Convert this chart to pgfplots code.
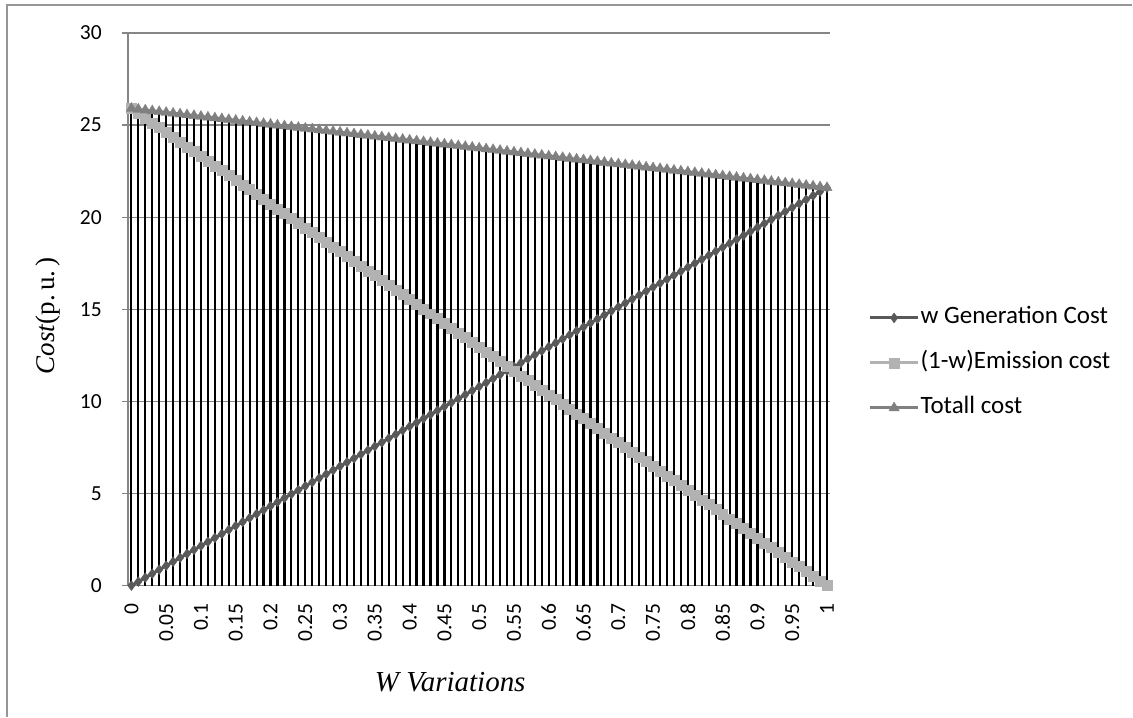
\documentclass[border=0pt]{standalone}
\usepackage{fontspec}
\setmainfont{Carlito}
\newfontfamily\tnr{Liberation Serif}
\usepackage{pgfplots}
\usepackage{pgfplotstable}
\pgfplotsset{compat=1.18}
\definecolor{genc}{RGB}{89,89,89}
\definecolor{emc}{RGB}{178,178,178}
\definecolor{totc}{RGB}{128,128,128}
\definecolor{gridc}{RGB}{134,134,134}
\definecolor{framec}{RGB}{150,150,150}
\newcommand\tf{\fontsize{21.5bp}{24bp}\selectfont}
\pgfplotstableread{
i gen em tot
0 0 25.9 25.9
1 0.216 25.641 25.857
2 0.432 25.382 25.814
3 0.648 25.123 25.771
4 0.864 24.864 25.728
5 1.08 24.605 25.685
6 1.296 24.346 25.642
7 1.512 24.087 25.599
8 1.728 23.828 25.556
9 1.944 23.569 25.513
10 2.16 23.31 25.47
11 2.376 23.051 25.427
12 2.592 22.792 25.384
13 2.808 22.533 25.341
14 3.024 22.274 25.298
15 3.24 22.015 25.255
16 3.456 21.756 25.212
17 3.672 21.497 25.169
18 3.888 21.238 25.126
19 4.104 20.979 25.083
20 4.32 20.72 25.04
21 4.536 20.461 24.997
22 4.752 20.202 24.954
23 4.968 19.943 24.911
24 5.184 19.684 24.868
25 5.4 19.425 24.825
26 5.616 19.166 24.782
27 5.832 18.907 24.739
28 6.048 18.648 24.696
29 6.264 18.389 24.653
30 6.48 18.13 24.61
31 6.696 17.871 24.567
32 6.912 17.612 24.524
33 7.128 17.353 24.481
34 7.344 17.094 24.438
35 7.56 16.835 24.395
36 7.776 16.576 24.352
37 7.992 16.317 24.309
38 8.208 16.058 24.266
39 8.424 15.799 24.223
40 8.64 15.54 24.18
41 8.856 15.281 24.137
42 9.072 15.022 24.094
43 9.288 14.763 24.051
44 9.504 14.504 24.008
45 9.72 14.245 23.965
46 9.936 13.986 23.922
47 10.152 13.727 23.879
48 10.368 13.468 23.836
49 10.584 13.209 23.793
50 10.8 12.95 23.75
51 11.016 12.691 23.707
52 11.232 12.432 23.664
53 11.448 12.173 23.621
54 11.664 11.914 23.578
55 11.88 11.655 23.535
56 12.096 11.396 23.492
57 12.312 11.137 23.449
58 12.528 10.878 23.406
59 12.744 10.619 23.363
60 12.96 10.36 23.32
61 13.176 10.101 23.277
62 13.392 9.842 23.234
63 13.608 9.583 23.191
64 13.824 9.324 23.148
65 14.04 9.065 23.105
66 14.256 8.806 23.062
67 14.472 8.547 23.019
68 14.688 8.288 22.976
69 14.904 8.029 22.933
70 15.12 7.77 22.89
71 15.336 7.511 22.847
72 15.552 7.252 22.804
73 15.768 6.993 22.761
74 15.984 6.734 22.718
75 16.2 6.475 22.675
76 16.416 6.216 22.632
77 16.632 5.957 22.589
78 16.848 5.698 22.546
79 17.064 5.439 22.503
80 17.28 5.18 22.46
81 17.496 4.921 22.417
82 17.712 4.662 22.374
83 17.928 4.403 22.331
84 18.144 4.144 22.288
85 18.36 3.885 22.245
86 18.576 3.626 22.202
87 18.792 3.367 22.159
88 19.008 3.108 22.116
89 19.224 2.849 22.073
90 19.44 2.59 22.03
91 19.656 2.331 21.987
92 19.872 2.072 21.944
93 20.088 1.813 21.901
94 20.304 1.554 21.858
95 20.52 1.295 21.815
96 20.736 1.036 21.772
97 20.952 0.777 21.729
98 21.168 0.518 21.686
99 21.384 0.259 21.643
100 21.6 0 21.6
}\data
\begin{document}
\begin{tikzpicture}[x=1bp,y=1bp]
\path (0,0) rectangle (1133,717);
\draw[color=framec, line width=1.5bp] (7,0) -- (7,712) -- (1133,712);
\begin{axis}[
  at={(128bp,131bp)}, anchor=south west,
  scale only axis, width=703bp, height=553bp,
  xmin=-0.5, xmax=100.5, ymin=0, ymax=30,
  axis x line*=bottom, axis y line*=left,
  axis line style={color=gridc, line width=1.3bp, -},
  xtick={0,5,...,100},
  xticklabels={{\tf 0},{\tf 0.05},{\tf 0.1},{\tf 0.15},{\tf 0.2},{\tf 0.25},{\tf 0.3},{\tf 0.35},{\tf 0.4},{\tf 0.45},{\tf 0.5},{\tf 0.55},{\tf 0.6},{\tf 0.65},{\tf 0.7},{\tf 0.75},{\tf 0.8},{\tf 0.85},{\tf 0.9},{\tf 0.95},{\tf 1}},
  xtick style={draw=none},
  ytick={0,5,...,30},
  yticklabels={{\tf 0},{\tf 5},{\tf 10},{\tf 15},{\tf 20},{\tf 25},{\tf 30}},
  ytick style={color=gridc, line width=1.3bp},
  tick align=outside, major tick length=6bp,
  ymajorgrids, grid style={color=gridc, line width=1.3bp},
  xticklabel style={rotate=90, anchor=east, inner sep=0pt, xshift=-12bp},
  yticklabel style={anchor=east, inner sep=0pt, xshift=-20bp},
  clip=false,
  legend cell align=left,
  legend style={at={(1.054,0.403)}, anchor=west, draw=none, fill=none, inner sep=0pt,
    font=\fontsize{25bp}{28bp}\selectfont, row sep=19bp,
    nodes={inner sep=1bp, text height=18bp, text depth=6bp},
    /tikz/every even column/.append style={column sep=3bp}},
  legend image code/.code={\draw[#1, mark repeat=2, mark phase=2] plot coordinates {(0bp,0bp) (24bp,0bp) (48bp,0bp)};},
]
\addplot[color=genc, line width=3bp, mark=diamond*, mark size=5bp, mark options={fill=genc, draw=genc, line width=0.3bp}] table[x=i, y=gen] {\data};
\addplot[color=emc, line width=3bp, mark=square*, mark size=5bp, mark options={fill=emc, draw=emc, line width=0.3bp}] table[x=i, y=em] {\data};
\addplot[color=totc, line width=3bp, mark=triangle*, mark size=6bp, mark options={fill=totc, draw=totc, line width=0.3bp}] table[x=i, y=tot] {\data};
\addplot[ycomb, black, line width=2.2bp, forget plot] table[x=i, y=tot] {\data};
\legend{w Generation Cost, (1-w)Emission cost, Totall cost}
\end{axis}
\node[rotate=90, anchor=base, inner sep=0pt, font=\fontsize{27bp}{30bp}\selectfont] at (55,401) {\tnr\textit{Cost}(p.\hspace{0.15em}u.\hspace{0.15em})};
\node[anchor=base, inner sep=0pt, font=\fontsize{29bp}{32bp}\selectfont] at (450.5,25) {\tnr\textit{W Variations}};
\end{tikzpicture}
\end{document}
